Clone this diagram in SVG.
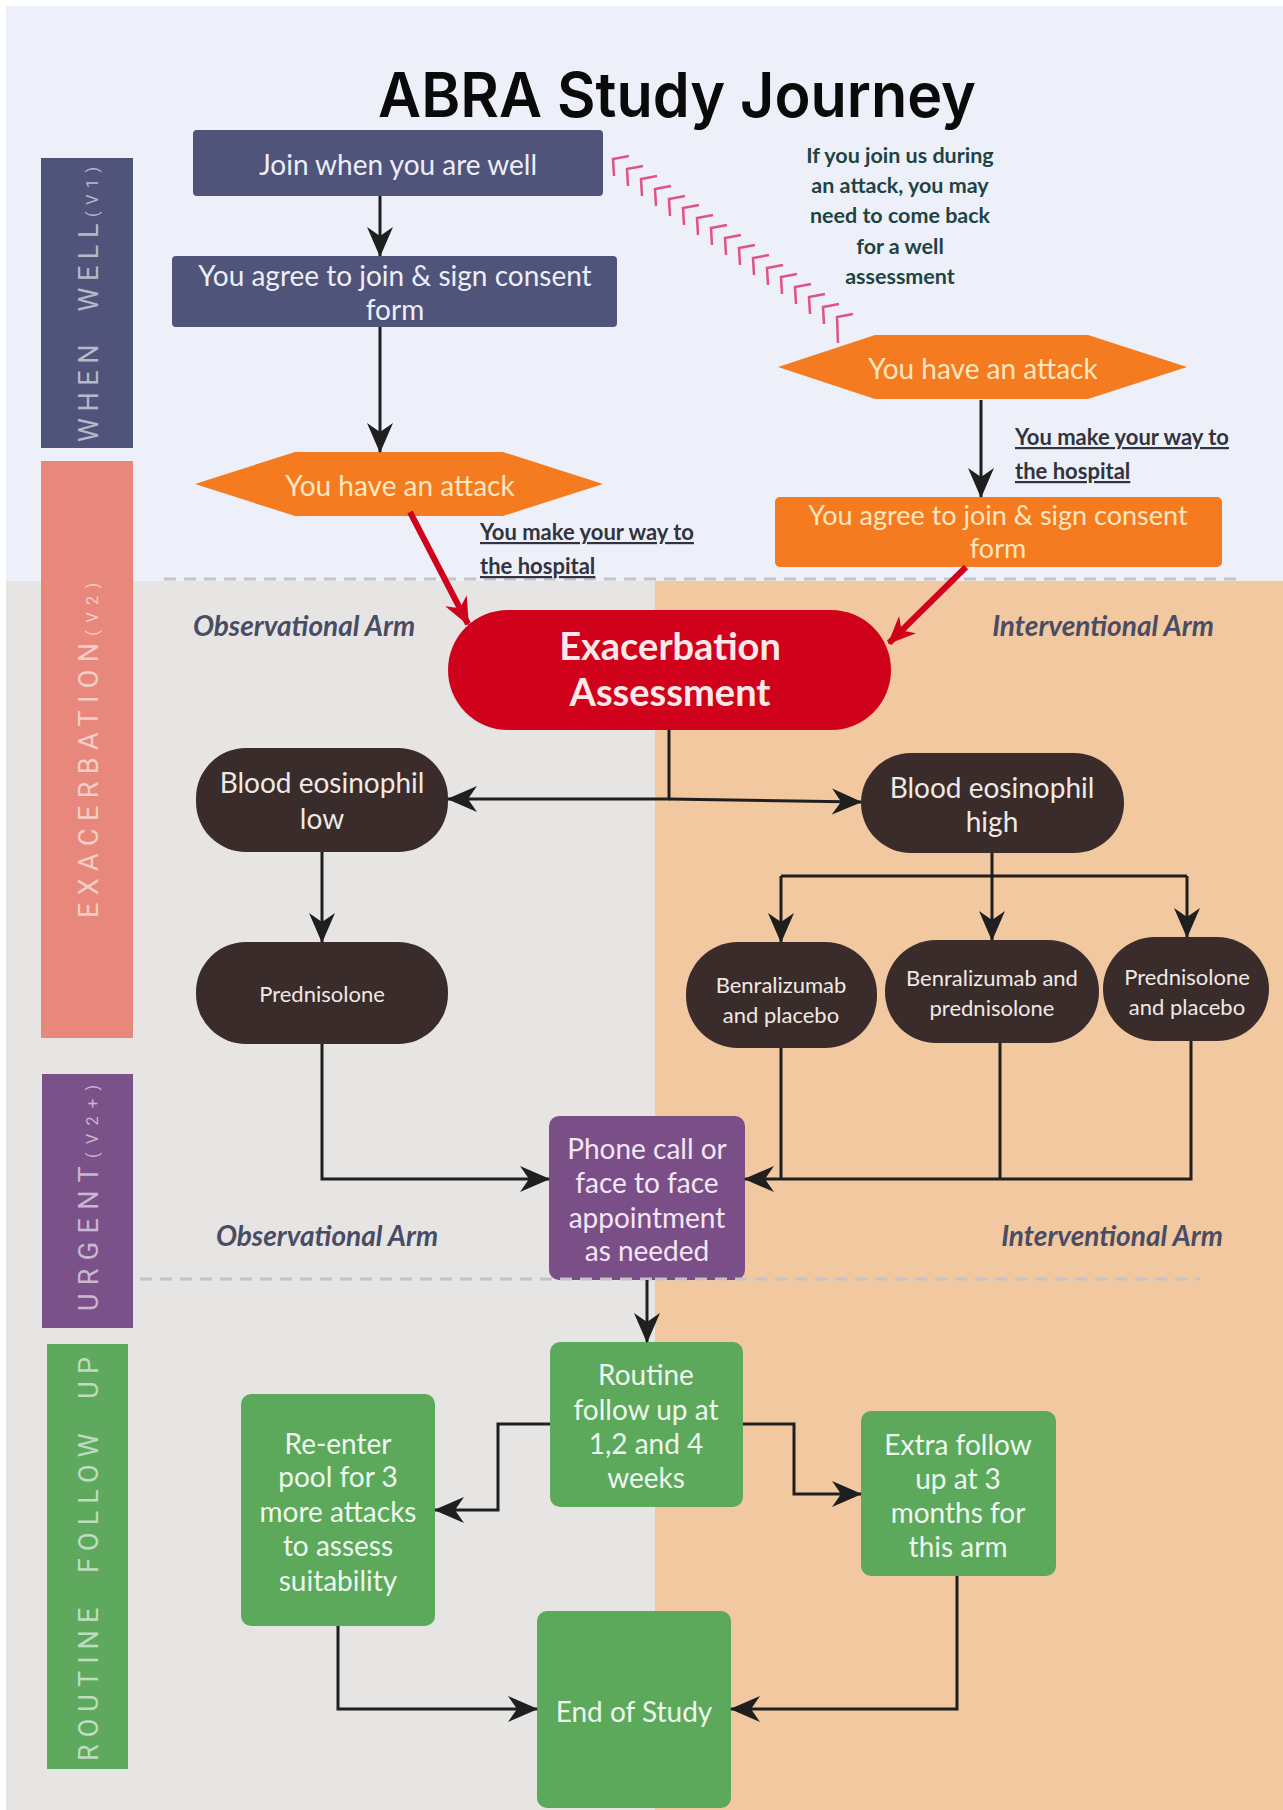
<svg xmlns="http://www.w3.org/2000/svg" width="1283" height="1810" viewBox="0 0 1283 1810">
<style>
.t{font-family:Lato,'Liberation Sans',sans-serif;text-anchor:middle}
.f28{font-size:28px}
.f27{font-size:27px}
.f22{font-size:22px}
.lane{font-family:Roboto,'Liberation Sans',sans-serif;font-size:27px;fill:#ffffff;fill-opacity:0.6}
.lane .s{font-size:16px}
.slate{fill:#50537a}
.slateT{fill:#eceef8}
.orange{fill:#f47b20}
.orangeT{fill:#fde6c0}
.brown{fill:#3a2c2a}
.brownT{fill:#efe9e6}
.green{fill:#5ca95c}
.greenT{fill:#eef8ee}
.purple{fill:#7a4f88}
.purpleT{fill:#f5e6f7}
.arm{font-family:Lato,'Liberation Sans',sans-serif;font-size:28px;font-weight:bold;font-style:italic;fill:#4a4c66;text-anchor:middle}
.note{font-family:Lato,'Liberation Sans',sans-serif;font-size:21.5px;font-weight:bold;fill:#1d4444;text-anchor:middle}
.way{font-family:Lato,'Liberation Sans',sans-serif;font-size:22px;font-weight:bold;fill:#333340;text-decoration:underline}
.c{fill:none;stroke:#1f1f1f;stroke-width:3}
.r{fill:none;stroke:#d0021b;stroke-width:6}
.dash{fill:none;stroke:#c4c4c8;stroke-width:3;stroke-dasharray:12 8}
</style>
<defs>
<marker id="ah" viewBox="0 0 30 30" refX="29" refY="15" markerWidth="30" markerHeight="30" markerUnits="userSpaceOnUse" orient="auto">
<path d="M0,2 L30,15 L0,28 L9,15 z" fill="#1f1f1f"/>
</marker>
<marker id="rh" viewBox="0 0 30 30" refX="28" refY="15" markerWidth="28" markerHeight="28" markerUnits="userSpaceOnUse" orient="auto">
<path d="M0,2 L30,15 L0,28 L9,15 z" fill="#d0021b"/>
</marker>
</defs>

<g id="background">
<rect x="0" y="0" width="1283" height="1810" fill="#ffffff"/>
<rect x="6" y="6" width="1277" height="1804" fill="#edf0f8"/>
<rect x="6" y="581" width="649" height="1229" fill="#e6e5e3"/>
<rect x="655" y="581" width="628" height="1229" fill="#f1c8a0"/>
<path class="dash" d="M164,579 H1241"/>
</g>

<g id="lanes">
<rect x="41" y="158" width="92" height="290" fill="#50537a"/>
<rect x="41" y="461" width="92" height="577" fill="#e8877c"/>
<rect x="42" y="1074" width="91" height="254" fill="#7b5189"/>
<rect x="47" y="1344" width="81" height="425" fill="#5fa95f"/>
<text class="lane" transform="translate(98,442) rotate(-90)" textLength="275" style="white-space:pre">WHEN  WELL<tspan class="s">(V1)</tspan></text>
<text class="lane" transform="translate(98,918) rotate(-90)" textLength="335">EXACERBATION<tspan class="s">(V2)</tspan></text>
<text class="lane" transform="translate(98,1311) rotate(-90)" textLength="226">URGENT<tspan class="s">(V2+)</tspan></text>
<text class="lane" transform="translate(98,1761) rotate(-90)" textLength="404" style="white-space:pre">ROUTINE  FOLLOW  UP</text>
</g>

<g id="title">
<text x="677" y="117" font-family="Inter,'Liberation Sans',sans-serif" font-weight="600" font-size="62" fill="#0a0a0a" text-anchor="middle" textLength="598" lengthAdjust="spacingAndGlyphs">ABRA Study Journey</text>
</g>

<g id="labels">
<text class="note" x="900" y="163">If you join us during</text>
<text class="note" x="900" y="193">an attack, you may</text>
<text class="note" x="900" y="223">need to come back</text>
<text class="note" x="900" y="254">for a well</text>
<text class="note" x="900" y="284">assessment</text>
<text class="way" x="480" y="540">You make your way to</text>
<text class="way" x="480" y="574">the hospital</text>
<text class="way" x="1015" y="445">You make your way to</text>
<text class="way" x="1015" y="479">the hospital</text>
<text class="arm" x="304" y="636">Observational Arm</text>
<text class="arm" x="1103" y="636">Interventional Arm</text>
<text class="arm" x="327" y="1246">Observational Arm</text>
<text class="arm" x="1112" y="1246">Interventional Arm</text>
</g>

<g id="pink-link" fill="none" stroke="#e0508a" stroke-width="2.5">
<path d="M614,176 L613,159 L629,156 M628,186 L627,169 L643,166 M642,196 L641,179 L657,176 M656,206 L655,189 L671,186 M670,216 L669,199 L685,196 M684,225 L683,208 L699,205 M698,235 L697,218 L713,215 M712,245 L711,228 L727,225 M726,255 L725,238 L741,235 M740,265 L739,248 L755,245 M754,275 L753,258 L769,255 M768,285 L767,268 L783,265 M782,294 L781,277 L797,274 M796,304 L795,287 L811,284 M810,314 L809,297 L825,294 M824,324 L823,307 L839,304 M838,343 L837,317 L853,314"/>
</g>

<g id="n-join">
<rect class="slate" x="193" y="130" width="410" height="66" rx="4"/>
<text class="t f28 slateT" x="398" y="175">Join when you are well</text>
</g>
<g id="n-agree-well">
<rect class="slate" x="172" y="256" width="445" height="71" rx="4"/>
<text class="t f28 slateT" x="395" y="286">You agree to join &amp; sign consent</text>
<text class="t f28 slateT" x="395" y="320">form</text>
</g>
<g id="n-attack-left">
<polygon class="orange" points="195,484 295,452 503,452 603,484 503,516 295,516"/>
<text class="t f28 orangeT" x="400" y="496">You have an attack</text>
</g>
<g id="n-attack-right">
<polygon class="orange" points="778,367 875,335 1088,335 1187,367 1088,399 875,399"/>
<text class="t f28 orangeT" x="983" y="379">You have an attack</text>
</g>
<g id="n-agree-attack">
<rect class="orange" x="775" y="497" width="447" height="70" rx="5"/>
<text class="t f27 orangeT" x="998" y="525">You agree to join &amp; sign consent</text>
<text class="t f27 orangeT" x="998" y="558">form</text>
</g>
<g id="n-exacerbation">
<rect x="448" y="610" width="443" height="120" rx="60" fill="#d0021b"/>
<text class="t" x="670" y="660" font-size="38" font-weight="bold" fill="#fbe9ea">Exacerbation</text>
<text class="t" x="670" y="706" font-size="38" font-weight="bold" fill="#fbe9ea">Assessment</text>
</g>
<g id="n-eos-low">
<rect class="brown" x="196" y="748" width="252" height="104" rx="50"/>
<text class="t f28 brownT" x="322" y="793">Blood eosinophil</text>
<text class="t f28 brownT" x="322" y="829">low</text>
</g>
<g id="n-eos-high">
<rect class="brown" x="861" y="753" width="263" height="100" rx="50"/>
<text class="t f28 brownT" x="992" y="798">Blood eosinophil</text>
<text class="t f28 brownT" x="992" y="832">high</text>
</g>
<g id="n-pred">
<rect class="brown" x="196" y="942" width="252" height="102" rx="50"/>
<text class="t f22 brownT" x="322" y="1002">Prednisolone</text>
</g>
<g id="n-benra-placebo">
<rect class="brown" x="686" y="942" width="191" height="106" rx="52"/>
<text class="t f22 brownT" x="781" y="993">Benralizumab</text>
<text class="t f22 brownT" x="781" y="1023">and placebo</text>
</g>
<g id="n-benra-pred">
<rect class="brown" x="885" y="940" width="214" height="103" rx="51"/>
<text class="t f22 brownT" x="992" y="986">Benralizumab and</text>
<text class="t f22 brownT" x="992" y="1016">prednisolone</text>
</g>
<g id="n-pred-placebo">
<rect class="brown" x="1103" y="937" width="166" height="104" rx="52"/>
<text class="t f22 brownT" x="1187" y="985">Prednisolone</text>
<text class="t f22 brownT" x="1187" y="1015">and placebo</text>
</g>
<g id="n-phone">
<rect class="purple" x="549" y="1116" width="196" height="164" rx="10"/>
<text class="t f28 purpleT" x="647" y="1159">Phone call or</text>
<text class="t f28 purpleT" x="647" y="1193">face to face</text>
<text class="t f28 purpleT" x="647" y="1228">appointment</text>
<text class="t f28 purpleT" x="647" y="1261">as needed</text>
</g>
<g id="n-routine">
<rect class="green" x="550" y="1342" width="193" height="165" rx="10"/>
<text class="t f28 greenT" x="646" y="1385">Routine</text>
<text class="t f28 greenT" x="646" y="1420">follow up at</text>
<text class="t f28 greenT" x="646" y="1454">1,2 and 4</text>
<text class="t f28 greenT" x="646" y="1488">weeks</text>
</g>
<g id="n-reenter">
<rect class="green" x="241" y="1394" width="194" height="232" rx="10"/>
<text class="t f28 greenT" x="338" y="1454">Re-enter</text>
<text class="t f28 greenT" x="338" y="1487">pool for 3</text>
<text class="t f28 greenT" x="338" y="1522">more attacks</text>
<text class="t f28 greenT" x="338" y="1556">to assess</text>
<text class="t f28 greenT" x="338" y="1591">suitability</text>
</g>
<g id="n-extra">
<rect class="green" x="861" y="1411" width="195" height="165" rx="10"/>
<text class="t f28 greenT" x="958" y="1455">Extra follow</text>
<text class="t f28 greenT" x="958" y="1489">up at 3</text>
<text class="t f28 greenT" x="958" y="1523">months for</text>
<text class="t f28 greenT" x="958" y="1557">this arm</text>
</g>
<g id="n-end">
<rect class="green" x="537" y="1611" width="194" height="197" rx="10"/>
<text class="t f28 greenT" x="634" y="1722">End of Study</text>
</g>

<path class="dash" d="M140,1279 H655"/>
<path class="dash" d="M655,1279 H1200" stroke="#dccbb8"/>

<g id="connectors">
<path class="c" d="M380,196 V256" marker-end="url(#ah)"/>
<path class="c" d="M380,327 V452" marker-end="url(#ah)"/>
<path class="c" d="M981,400 V497" marker-end="url(#ah)"/>
<path class="r" d="M410,512 L468,624" marker-end="url(#rh)"/>
<path class="r" d="M966,567 L889,643" marker-end="url(#rh)"/>
<path class="c" d="M669,730 V799 H448" marker-end="url(#ah)"/>
<path class="c" d="M669,799 L861,802" marker-end="url(#ah)"/>
<path class="c" d="M322,852 V942" marker-end="url(#ah)"/>
<path class="c" d="M992,853 V940" marker-end="url(#ah)"/>
<path class="c" d="M781,876 H1187"/>
<path class="c" d="M781,876 V942" marker-end="url(#ah)"/>
<path class="c" d="M1187,876 V937" marker-end="url(#ah)"/>
<path class="c" d="M322,1044 V1179 H549" marker-end="url(#ah)"/>
<path class="c" d="M781,1048 V1179"/>
<path class="c" d="M1000,1043 V1179"/>
<path class="c" d="M1191,1041 V1179 H745" marker-end="url(#ah)"/>
<path class="c" d="M647,1280 V1342" marker-end="url(#ah)"/>
<path class="c" d="M550,1424 H498 V1510 H435" marker-end="url(#ah)"/>
<path class="c" d="M743,1424 H794 V1494 H861" marker-end="url(#ah)"/>
<path class="c" d="M338,1626 V1709 H537" marker-end="url(#ah)"/>
<path class="c" d="M957,1576 V1709 H731" marker-end="url(#ah)"/>
</g>
</svg>
